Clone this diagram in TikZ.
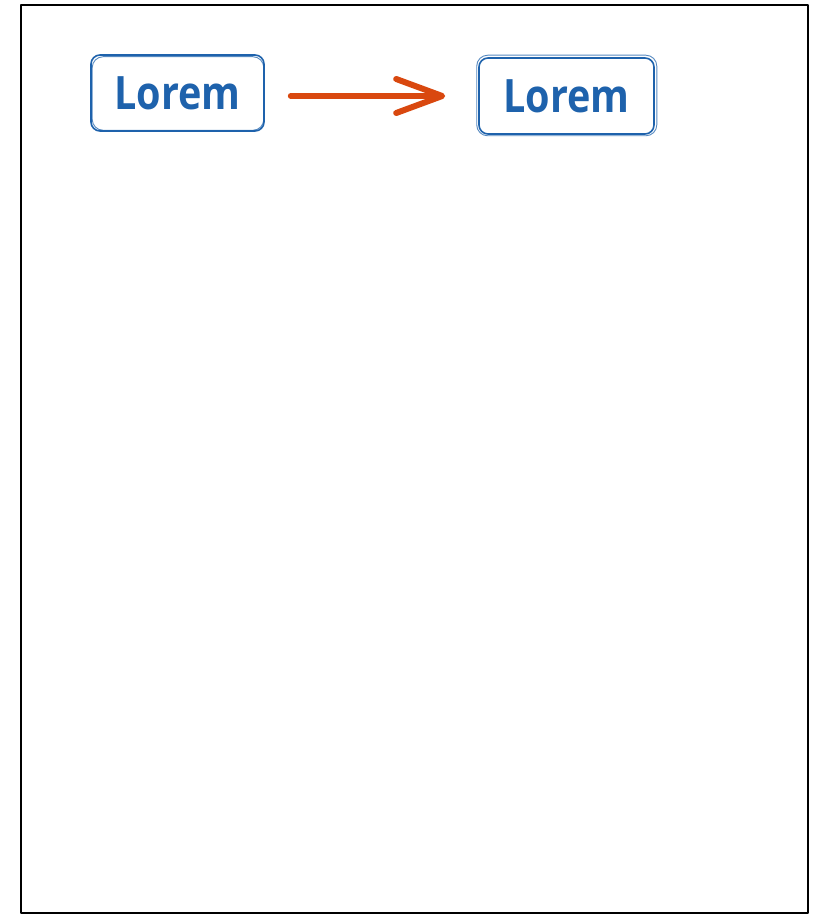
\documentclass[tikz,border=0pt]{standalone}
\usepackage{fontspec}
\setmainfont{Open Sans}
\usetikzlibrary{arrows.meta}
\definecolor{sketchblue}{RGB}{30,98,172}
\definecolor{sketchorange}{RGB}{217,72,15}
\tikzset{
  sketchbox/.style={draw=sketchblue, line width=1.6pt, rounded corners=9pt,
    minimum width=#1, minimum height=76pt, inner sep=0pt, text=sketchblue,
    font=\fontsize{46}{46}\selectfont\bfseries},
  sketchbox/.default=174pt,
  ghost/.style={draw=sketchblue, line width=0.9pt, rounded corners=11pt, opacity=0.75},
  flow/.style={draw=sketchorange, line width=6pt, line cap=round,
    -{Straight Barb[length=46pt,width=34pt,round]}}
}
\begin{document}
\begin{tikzpicture}[x=1pt,y=-1pt]
\useasboundingbox (0,0) rectangle (815,915);
\fill[white] (0,0) rectangle (815,915);
% outer frame
\draw[line width=1.8pt, line join=round] (21,5) -- (808,5) -- (808,913) -- (21,913) -- cycle;
% boxes
\node[sketchbox=173pt] (a) at (177.5,93) {\scalebox{0.86}[1]{Lorem}};
\node[sketchbox=175pt] (b) at (566.5,96) {\scalebox{0.86}[1]{Lorem}};
% second sketchy strokes
\draw[ghost] ([shift={(2pt,-2.5pt)}]a.north west) rectangle ([shift={(-1pt,1.5pt)}]a.south east);
\draw[ghost] ([shift={(-1.5pt,2pt)}]b.north west) rectangle ([shift={(2pt,-1pt)}]b.south east);
% arrow
\draw[flow, shorten <=26pt, shorten >=33pt] ([yshift=-3pt]a.east) -- (b.west);
\end{tikzpicture}
\end{document}
